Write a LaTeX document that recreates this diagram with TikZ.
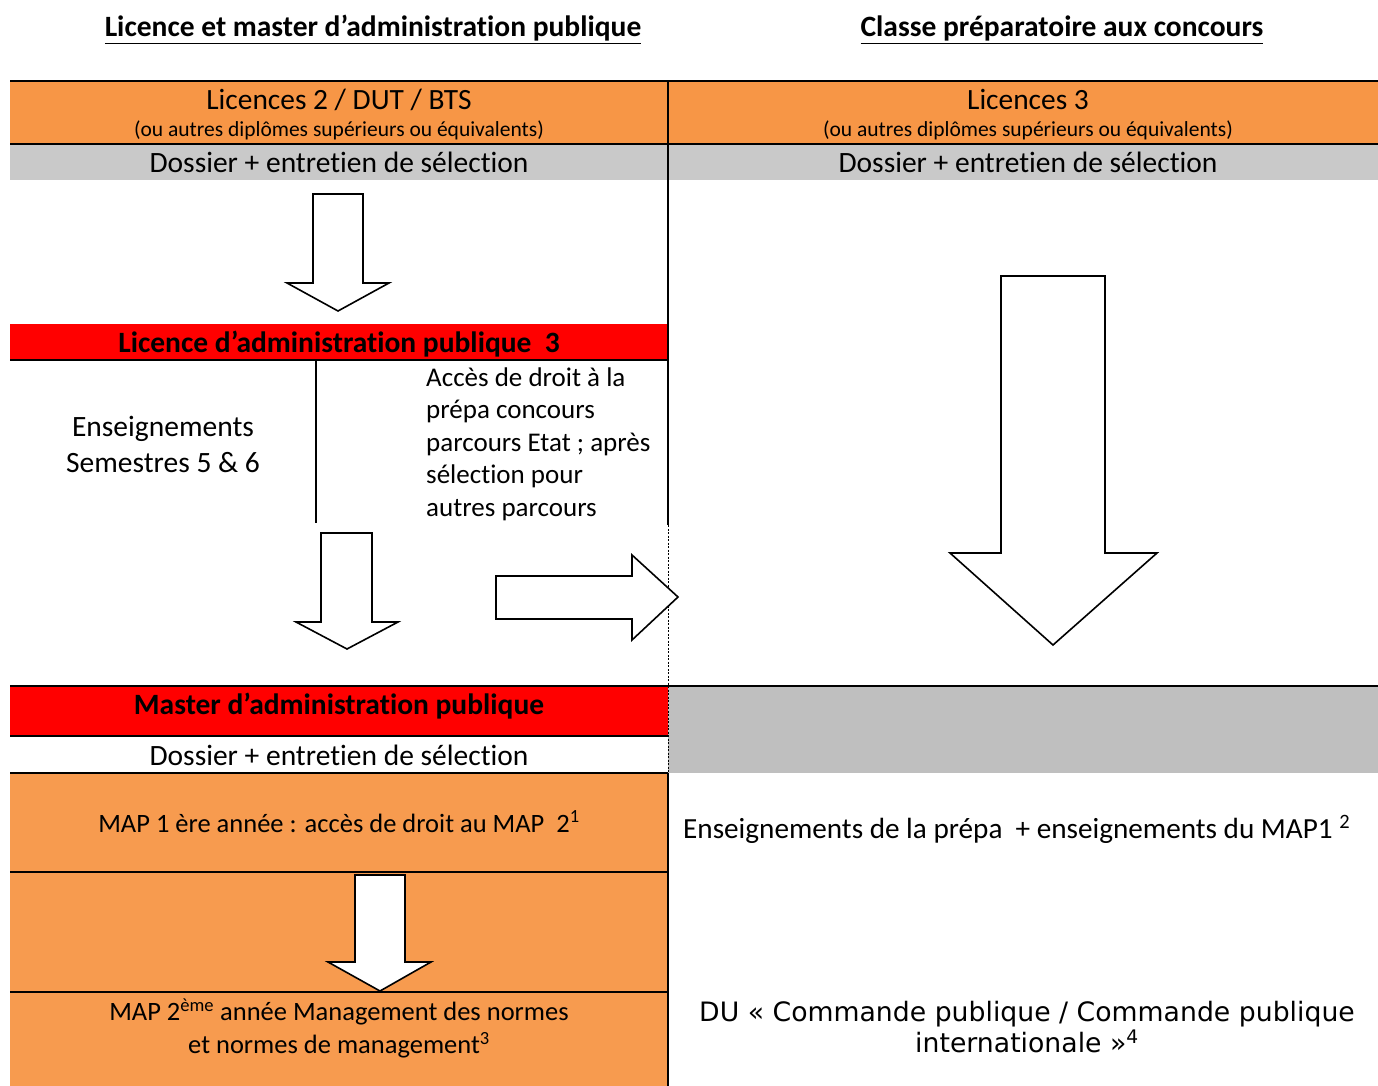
\documentclass[tikz,border=0pt]{standalone}
\usepackage{fontspec}
\setmainfont[Ligatures=NoCommon]{Carlito}
\newfontfamily\dejavu{DejaVu Sans}
\definecolor{orangeA}{HTML}{F79646}
\definecolor{orangeB}{HTML}{F79B4F}
\definecolor{grayA}{HTML}{C9C9C9}
\definecolor{grayB}{HTML}{BFBFBF}
\definecolor{redA}{HTML}{FF0000}
\newcommand{\fsb}[2]{\fontsize{#1}{#2}\selectfont}
\tikzset{
  txt/.style={inner sep=0pt, anchor=base},
  multi/.style={inner sep=0pt, anchor=center},
  blockarrow/.style={draw=black, fill=white, line width=1.6pt, line join=miter},
  rule/.style={draw=black, line width=2pt},
}
\begin{document}
\begin{tikzpicture}[x=1pt,y=-1pt]
\useasboundingbox (0,0) rectangle (1378,1086);
% backgrounds
\fill[orangeA] (10,81) rectangle (1378,144);
\fill[grayA] (10,144) rectangle (1378,180);
\fill[redA] (10,324) rectangle (668,360);
\fill[redA] (10,686) rectangle (668,736);
\fill[grayB] (668,686) rectangle (1378,773);
\fill[orangeB] (10,773) rectangle (668,1086);
% rules
\draw[rule] (10,81) -- (1378,81);
\draw[rule] (10,144) -- (1378,144);
\draw[rule] (668,81) -- (668,525);
\draw[rule] (10,360) -- (668,360);
\draw[rule] (316,360) -- (316,523);
\draw[line width=0.8pt, dash pattern=on 2pt off 1.5pt] (668,525) -- (668,773);
\draw[rule] (10,686) -- (1378,686);
\draw[rule] (10,736) -- (668,736);
\draw[rule] (10,773) -- (668,773);
\draw[rule] (668,773) -- (668,1086);
\draw[rule] (10,872) -- (668,872);
\draw[rule] (10,992) -- (668,992);
% block arrows
\draw[blockarrow] (313,194) -- (363,194) -- (363,283) -- (389,283) -- (338,311) -- (287,283) -- (313,283) -- cycle;
\draw[blockarrow] (321,533) -- (372,533) -- (372,622) -- (398,622) -- (347,649) -- (296,622) -- (321,622) -- cycle;
\draw[blockarrow] (496,576) -- (632,576) -- (632,555) -- (678,597) -- (632,640) -- (632,619) -- (496,619) -- cycle;
\draw[blockarrow] (1001,276) -- (1105,276) -- (1105,553) -- (1157,553) -- (1053,645) -- (950,553) -- (1001,553) -- cycle;
\draw[blockarrow] (355,875) -- (405,875) -- (405,962) -- (431,962) -- (380,991) -- (328,962) -- (355,962) -- cycle;
% texts
\node[txt, font=\fsb{29.5}{36}\bfseries] (title1) at (373,37) {\underline{Licence et master d’administration publique}};
\node[txt, font=\fsb{29.5}{36}\bfseries] (title2) at (1062,37) {\underline{Classe préparatoire aux concours}};
\node[txt, font=\fsb{29.4}{36}] (l2) at (339,110) {Licences 2 / DUT / BTS};
\node[txt, font=\fsb{21.5}{26}] (l2s) at (339,137) {(ou autres diplômes supérieurs ou équivalents)};
\node[txt, font=\fsb{29.4}{36}] (l3) at (1028,110) {Licences 3};
\node[txt, font=\fsb{21.5}{26}] (l3s) at (1028,137) {(ou autres diplômes supérieurs ou équivalents)};
\node[txt, font=\fsb{29.5}{36}] (dos1) at (339,173) {Dossier + entretien de sélection};
\node[txt, font=\fsb{29.5}{36}] (dos2) at (1028,173) {Dossier + entretien de sélection};
\node[txt, font=\fsb{29.5}{36}\bfseries] (lap) at (339,352) {Licence d’administration publique\ \ 3};
\node[multi, align=center, font=\fsb{29.5}{36}] (ens) at (163,444) {Enseignements\\Semestres 5 \& 6};
\node[inner sep=0pt, align=left, anchor=west, font=\fsb{27}{32.5}] (acc) at (426,444) {Accès de droit à la\\prépa concours\\parcours Etat ; après\\sélection pour\\autres parcours};
\node[txt, font=\fsb{29.5}{36}\bfseries] (master) at (339,714) {Master d’administration publique};
\node[txt, font=\fsb{29.5}{36}] (dos3) at (339,765) {Dossier + entretien de sélection};
\node[txt, font=\fsb{26.5}{32}] (map1) at (339,832) {MAP 1 ère année : accès de droit au MAP\ \ 2\textsuperscript{1}};
\node[multi, align=center, font=\fsb{26.5}{33}] (map2) at (339,1028) {MAP 2\textsuperscript{ème} année Management des normes\\et normes de management\textsuperscript{3}};
\node[txt, anchor=base west, font=\fsb{29.2}{36}] (ens2) at (683,838) {Enseignements de la prépa\ \ + enseignements du MAP1 \textsuperscript{2}};
\node[multi, align=center, font=\dejavu\fsb{26.7}{31}] (du) at (1027,1027) {DU « Commande publique / Commande publique\\internationale »\textsuperscript{4}};
\end{tikzpicture}
\end{document}
